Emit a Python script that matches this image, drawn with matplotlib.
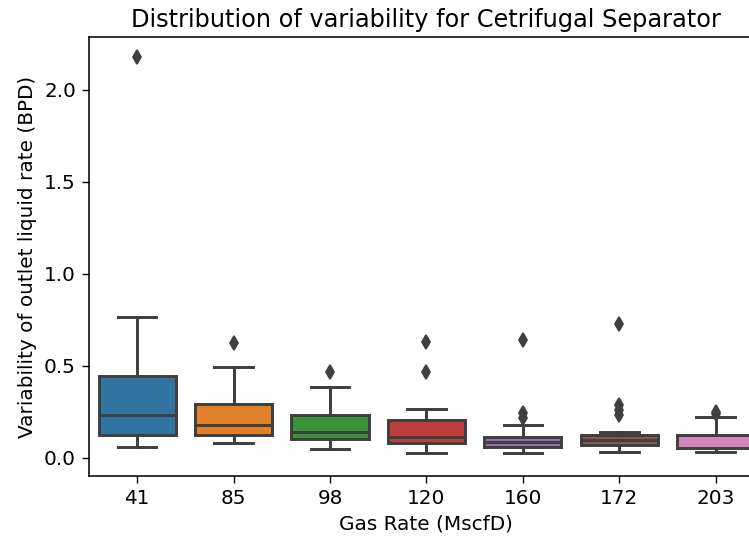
import matplotlib
matplotlib.use("Agg")
import matplotlib.pyplot as plt

# ── Data ─────────────────────────────────────────────────────────────────────
gas_rates = ["41", "85", "98", "120", "160", "172", "203"]
whislo = [0.058, 0.080, 0.047, 0.025, 0.029, 0.034, 0.034]
q1 = [0.125, 0.125, 0.101, 0.080, 0.058, 0.071, 0.053]
med = [0.232, 0.178, 0.143, 0.116, 0.089, 0.098, 0.055]
q3 = [0.447, 0.293, 0.232, 0.208, 0.116, 0.125, 0.125]
whishi = [0.767, 0.493, 0.384, 0.265, 0.179, 0.140, 0.225]
fliers = [
    [2.18],
    [0.627],
    [0.466],
    [0.629, 0.466],
    [0.641, 0.243, 0.216],
    [0.727, 0.288, 0.261, 0.234],
    [0.250, 0.240],
]
colors = ["#3274a1", "#e1812c", "#3a923a", "#c03d3e", "#9372b2", "#845b53", "#d684bd"]
gray = "#3f3f3f"

plt.rcParams.update({
    "font.size": 11.5,
    "axes.titlesize": 13.8,
    "xtick.major.size": 4,
    "ytick.major.size": 4,
    "axes.linewidth": 0.9,
})

stats = [
    dict(label=g, whislo=lo, q1=a, med=m, q3=b, whishi=hi, fliers=f)
    for g, lo, a, m, b, hi, f in zip(gas_rates, whislo, q1, med, q3, whishi, fliers)
]

fig = plt.figure(figsize=(749 / 125, 539 / 125), dpi=125)
ax = fig.add_axes([0.1188, 0.1169, 0.901, 0.8145])

lw = 1.7
bp = ax.bxp(
    stats,
    positions=range(len(stats)),
    widths=0.8,
    patch_artist=True,
    boxprops=dict(edgecolor=gray, linewidth=lw),
    medianprops=dict(color=gray, linewidth=lw),
    whiskerprops=dict(color=gray, linewidth=lw),
    capprops=dict(color=gray, linewidth=lw),
    flierprops=dict(marker="d", markerfacecolor=gray, markeredgecolor=gray,
                    markersize=5.8, linestyle="none"),
)
for patch, c in zip(bp["boxes"], colors):
    patch.set_facecolor(c)

ax.set_xlim(-0.5, 6.5)
ax.set_ylim(-0.098, 2.288)
ax.set_xticks(range(len(gas_rates)), gas_rates)
ax.set_xlabel("Gas Rate (MscfD)")
ax.set_ylabel("Variability of outlet liquid rate (BPD)")
ax.set_title("Distribution of variability for Cetrifugal Separator")

fig.savefig("out.png", dpi=125)
